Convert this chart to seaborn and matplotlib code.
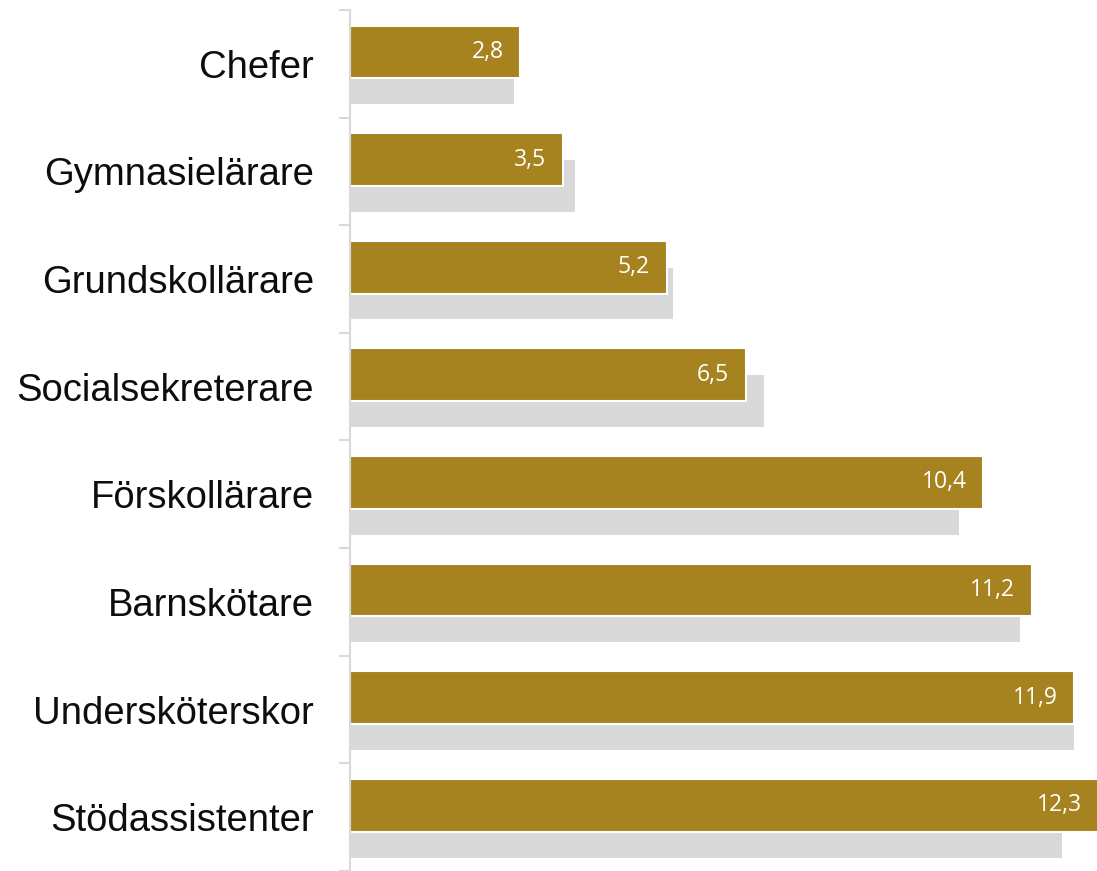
import numpy as np
import pandas as pd
import matplotlib
matplotlib.use("Agg")
import matplotlib.pyplot as plt
import seaborn as sns

categories = ["Chefer", "Gymnasielärare", "Grundskollärare", "Socialsekreterare",
              "Förskollärare", "Barnskötare", "Undersköterskor", "Stödassistenter"]
gold_values = [2.8, 3.5, 5.2, 6.5, 10.4, 11.2, 11.9, 12.3]
grey_values = [2.7, 3.7, 5.3, 6.8, 10.0, 11.0, 11.9, 11.7]
value_labels = ["2,8", "3,5", "5,2", "6,5", "10,4", "11,2", "11,9", "12,3"]

GOLD = "#A6831E"
GREY = "#D9D9D9"

sns.set_theme(style="white")
plt.rcParams["font.family"] = ["Liberation Sans", "DejaVu Sans"]

pos = np.arange(len(categories))
df_gold = pd.DataFrame({"pos": pos - 0.11, "val": gold_values})
df_grey = pd.DataFrame({"pos": pos + 0.135, "val": grey_values})

fig = plt.figure(figsize=(10.97, 8.71), dpi=100)
ax = fig.add_axes([350 / 1097, 0.0, 1 - 350 / 1097, 861 / 871])

sns.barplot(data=df_grey, x="val", y="pos", orient="h", native_scale=True,
            color=GREY, saturation=1, width=0.48, ax=ax, linewidth=0)
sns.barplot(data=df_gold, x="val", y="pos", orient="h", native_scale=True,
            color=GOLD, saturation=1, width=0.49, ax=ax,
            edgecolor="white", linewidth=1.5)

for p, v, lab in zip(df_gold["pos"], gold_values, value_labels):
    ax.annotate(lab, xy=(v, p), xytext=(-12, 0), textcoords="offset points",
                ha="right", va="center", color="white", fontsize=16.5,
                family=["Open Sans", "DejaVu Sans"], annotation_clip=False)

ax.set_xlim(0, 12.27)
ax.set_ylim(-0.5 + 861 / 108, -0.5)
ax.set_yticks(pos)
ax.set_yticklabels(categories, fontsize=27.5, color="#0d0d0d")
ax.set_yticks(np.arange(len(categories) + 1) - 0.5, minor=True)
ax.tick_params(axis="y", which="major", length=0, pad=26)
ax.tick_params(axis="y", which="minor", length=8, width=1.5, color=GREY, left=True)
ax.set_xticks([])
ax.set_xlabel("")
ax.set_ylabel("")
for s in ["top", "right", "bottom"]:
    ax.spines[s].set_visible(False)
ax.spines["left"].set_color(GREY)
ax.spines["left"].set_linewidth(1.5)

fig.savefig("out.png", dpi=100)
